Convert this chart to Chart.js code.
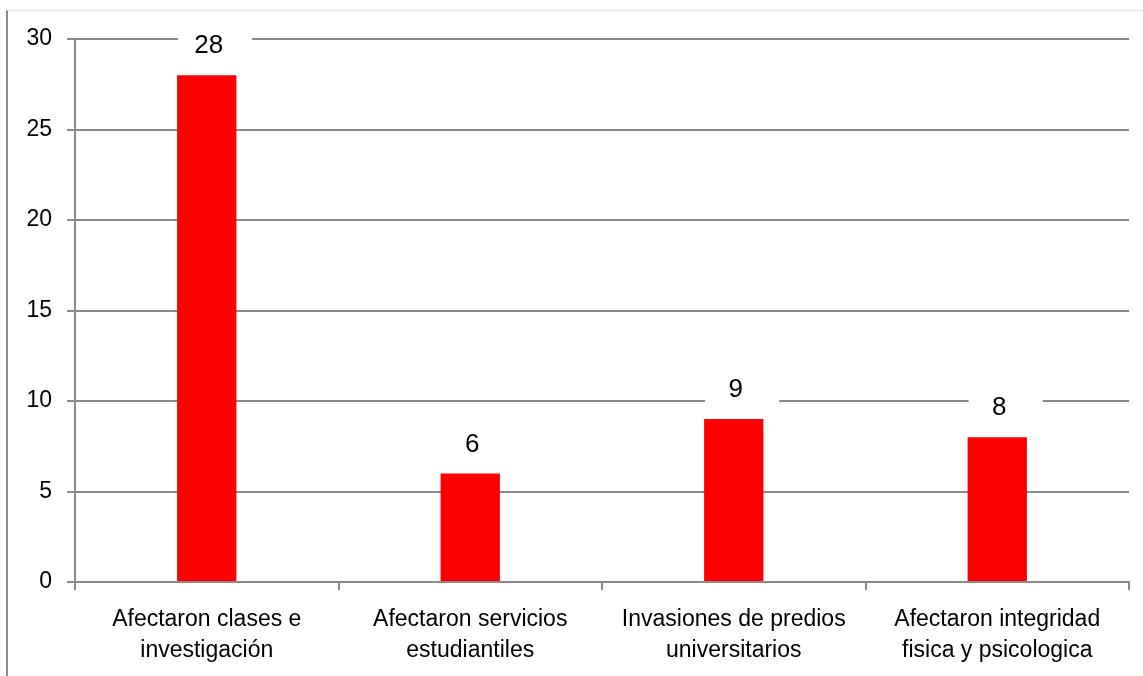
<!DOCTYPE html>
<html>
<head>
<meta charset="utf-8">
<script src="https://cdn.jsdelivr.net/npm/chart.js@4/dist/chart.umd.min.js"></script>
<style>
  body { margin: 0; background: #fff; }
  #wrap { position: relative; width: 1143px; height: 676px; }
  #frame { position: absolute; left: 6px; top: 10px; right: 0; bottom: 0;
           border-left: 2px solid #8c8c8c; border-top: 1px solid #e6e6e6; }
  canvas { position: absolute; left: 0; top: 0; }
</style>
</head>
<body>
<div id="wrap">
  <div id="frame"></div>
  <canvas id="chart" width="1143" height="676"></canvas>
</div>
<script>
var categories = [
  ['Afectaron clases e', 'investigación'],
  ['Afectaron servicios', 'estudiantiles'],
  ['Invasiones de predios', 'universitarios'],
  ['Afectaron integridad', 'fisica y psicologica']
];
var counts = [28, 6, 9, 8];
var yTicks = [0, 5, 10, 15, 20, 25, 30];

var gridGray = '#8a8a8a';
var fontFam = '"Liberation Sans", Arial, sans-serif';

// value labels on white boxes above each bar
var barLabels = {
  id: 'barLabels',
  afterDatasetsDraw: function (chart) {
    var ctx = chart.ctx;
    var meta = chart.getDatasetMeta(0);
    ctx.save();
    ctx.font = '26px ' + fontFam;
    ctx.textAlign = 'center';
    ctx.textBaseline = 'middle';
    meta.data.forEach(function (bar, i) {
      var left = bar.x - bar.width / 2;
      var cy = bar.y - 29;
      ctx.fillStyle = '#ffffff';
      ctx.fillRect(left + 1, cy - 16, 74, 32);
      ctx.fillStyle = '#000000';
      ctx.fillText(String(counts[i]), bar.x + 2, cy);
    });
    ctx.restore();
  }
};

new Chart(document.getElementById('chart'), {
  type: 'bar',
  data: {
    labels: categories,
    datasets: [{
      data: counts,
      backgroundColor: '#ff0000',
      categoryPercentage: 1,
      barPercentage: 0.225
    }]
  },
  options: {
    responsive: false,
    animation: false,
    layout: { padding: { top: 39, right: 14, left: 0, bottom: 0 } },
    plugins: {
      legend: { display: false },
      tooltip: { enabled: false }
    },
    scales: {
      x: {
        grid: { offset: true, drawOnChartArea: false, drawTicks: true, tickLength: 8,
                color: gridGray, lineWidth: 2 },
        border: { color: gridGray, width: 2 },
        ticks: { color: '#000', font: { family: fontFam, size: 23, lineHeight: 1.35 }, padding: 14,
                 maxRotation: 0, autoSkip: false },
        afterFit: function (s) { s.height = 94; }
      },
      y: {
        min: 0,
        max: 30,
        afterBuildTicks: function (s) { s.ticks = yTicks.map(function (v) { return { value: v }; }); },
        grid: { color: gridGray, lineWidth: 2, tickLength: 8 },
        border: { color: gridGray, width: 2 },
        ticks: { color: '#000', font: { family: fontFam, size: 23 }, padding: 15 },
        afterFit: function (s) { s.width = 75; }
      }
    }
  },
  plugins: [barLabels]
});
</script>
</body>
</html>
